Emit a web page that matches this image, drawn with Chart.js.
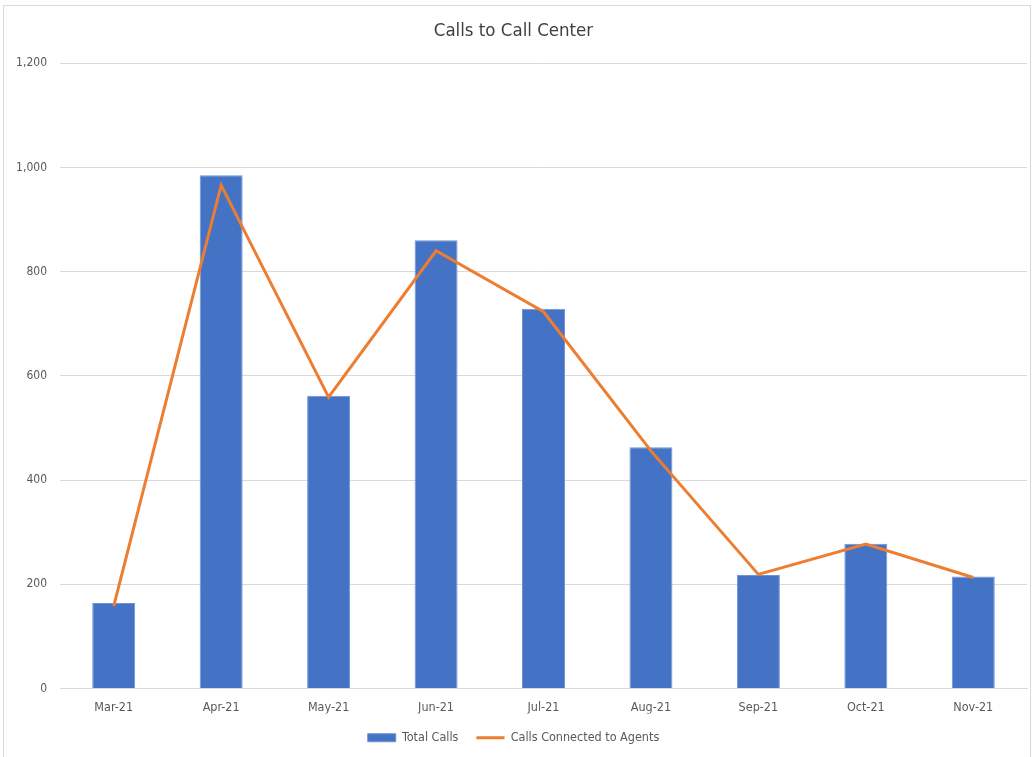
<!DOCTYPE html>
<html lang="en">
<head>
  <meta charset="UTF-8" />
  <title>Calls to Call Center</title>
  <script src="https://cdn.jsdelivr.net/npm/chart.js"></script>
  <style>
    body {
      margin: 0;
      background: #fff;
    }

    .frame {
      position: absolute;
      left: 3px;
      top: 5px;
      width: 1026px;
      height: 760px;
      border: 1px solid #d9d9d9;
      pointer-events: none;
    }

    .wrap {
      position: absolute;
      left: 0;
      top: 0;
      width: 1033px;
      height: 757px;
    }
  </style>
</head>
<body>

<div class="wrap">
  <canvas id="callsChart"></canvas>
</div>
<div class="frame"></div>

<script>
  const months = ['Mar-21', 'Apr-21', 'May-21', 'Jun-21', 'Jul-21', 'Aug-21', 'Sep-21', 'Oct-21', 'Nov-21'];
  const totalCalls = [164, 985, 562, 860, 729, 463, 218, 278, 215];
  const connectedCalls = [158, 966, 559, 840, 723, 456, 219, 277, 213];

  const font = "'Liberation Sans Narrow', 'DejaVu Sans Condensed', sans-serif";
  const grey = '#595959';

  const ctx = document.getElementById('callsChart').getContext('2d');

  new Chart(ctx, {
    data: {
      labels: months,
      datasets: [
        {
          type: 'bar',
          label: 'Total Calls',
          data: totalCalls,
          backgroundColor: '#4472c4',
          borderColor: '#6e93d6',
          borderWidth: 1,
          barPercentage: 1,
          categoryPercentage: 0.4,
          pointStyle: 'rect',
          order: 2
        },
        {
          type: 'line',
          label: 'Calls Connected to Agents',
          data: connectedCalls,
          borderColor: '#ed7d31',
          backgroundColor: '#ed7d31',
          borderWidth: 3,
          pointRadius: 0,
          tension: 0,
          pointStyle: 'line',
          order: 1
        }
      ]
    },
    options: {
      responsive: true,
      maintainAspectRatio: false,
      animation: false,
      layout: {
        padding: { left: 0, right: 6, top: 0, bottom: 3 }
      },
      plugins: {
        title: {
          display: true,
          text: 'Calls to Call Center',
          color: '#404040',
          font: { family: font, size: 18.5, weight: 'normal' },
          padding: { top: 20, bottom: 21 }
        },
        legend: {
          position: 'bottom',
          labels: {
            usePointStyle: true,
            pointStyleWidth: 28,
            boxHeight: 8,
            color: grey,
            font: { family: font, size: 12.5 },
            padding: 18,
            sort: (a, b) => a.datasetIndex - b.datasetIndex
          }
        },
        tooltip: { enabled: false }
      },
      scales: {
        x: {
          afterFit: scale => { scale.height -= 14; },
          grid: { display: false, drawTicks: false },
          border: { color: '#d9d9d9' },
          ticks: {
            color: grey,
            font: { family: font, size: 12.5 },
            padding: 12
          }
        },
        y: {
          min: 0,
          max: 1200,
          afterFit: scale => { scale.width = 60; },
          grid: { color: '#d9d9d9', drawTicks: false },
          border: { display: false },
          ticks: {
            stepSize: 200,
            color: grey,
            font: { family: font, size: 12 },
            padding: 13,
            callback: v => v.toLocaleString('en-US')
          }
        }
      }
    }
  });
</script>

</body>
</html>
